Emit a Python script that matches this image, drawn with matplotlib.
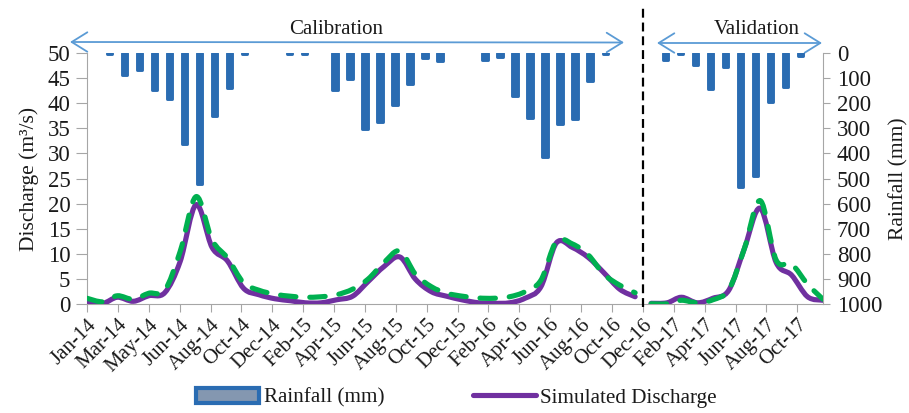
import numpy as np
import matplotlib
matplotlib.use("Agg")
import matplotlib.pyplot as plt
import matplotlib.dates as mdates
import matplotlib.transforms as mtransforms
from matplotlib.path import Path
from matplotlib.patches import PathPatch, Patch, FancyArrowPatch
from matplotlib.lines import Line2D

plt.rcParams['font.family'] = ['Liberation Serif', 'DejaVu Serif']

# ---------------- data ----------------
months = np.arange('2014-01', '2018-01', dtype='datetime64[M]').astype('datetime64[D]')

rainfall_mm = [5, 90, 67, 150, 185, 362, 520, 252, 140, 5, 0, 0,
               5, 5, 0, 148, 104, 302, 276, 207, 126, 22, 34, 0,
               0, 28, 18, 172, 260, 415, 283, 262, 113, 5, 0, 0,
               0, 30, 5, 48, 144, 57, 535, 490, 194, 137, 14, 0]

simulated = [0.6, 0.2, 1.4, 0.6, 1.7, 2.3, 8.5, 19.8, 11.3, 8.6, 3.2, 1.9,
             1.1, 0.7, 0.3, 0.3, 0.9, 1.6, 4.5, 7.5, 9.4, 5.0, 2.5, 1.6,
             0.85, 0.3, 0.2, 0.3, 1.2, 3.5, 12.2, 11.3, 9.3, 6.3, 3.0, 1.5,
             0.2, 0.3, 1.4, 0.3, 1.2, 2.8, 11.0, 19.1, 8.3, 5.8, 1.5, 0.8]

observed = [1.2, 0.5, 1.7, 1.0, 2.2, 2.8, 10.5, 21.4, 12.8, 9.2, 4.3, 2.8,
            2.0, 1.6, 1.4, 1.5, 1.9, 3.0, 5.0, 8.3, 10.6, 6.0, 3.5, 2.2,
            1.6, 1.25, 1.2, 1.5, 2.5, 4.8, 12.5, 12.0, 9.8, 6.0, 3.8, 2.3,
            0.1, 0.1, 0.8, 0.3, 0.9, 2.9, 11.0, 20.6, 8.8, 8.0, 4.0, 1.0]

n_calibration = 36  # Jan-14 .. Dec-16

tick_labels = ['Jan-14', 'Mar-14', 'May-14', 'Jun-14', 'Aug-14', 'Oct-14', 'Dec-14',
               'Feb-15', 'Apr-15', 'Jun-15', 'Aug-15', 'Oct-15', 'Dec-15', 'Feb-16',
               'Apr-16', 'Jun-16', 'Aug-16', 'Oct-16', 'Dec-16', 'Feb-17', 'Apr-17',
               'Jun-17', 'Aug-17', 'Oct-17']

# ---------------- style ----------------
BLUE = '#2A6CB2'
PURPLE = '#7030A0'
GREEN = '#00B050'
ARROW = '#5B9BD5'
GRAY = '#A6A6A6'
TXT = '#1a1a1a'

W, H = 909, 413
fig = plt.figure(figsize=(W / 100, H / 100), dpi=100)
pos = [87 / W, 1 - 304.3 / H, 736 / W, 251.6 / H]

axr = fig.add_axes(pos, label='rain')
ax = fig.add_axes(pos, label='discharge')
axr.set_zorder(1)
ax.set_zorder(2)
ax.patch.set_visible(False)
axr.patch.set_visible(False)

# ---------- rainfall bars (right axis, inverted) ----------
rain = np.asarray(rainfall_mm, float)
idx = np.arange(len(rain))
mask = rain > 0
bars = axr.bar(idx[mask], rain[mask], width=0.36, color=BLUE, edgecolor=BLUE,
               linewidth=2.1, align='center')
for b in bars:
    b.set_joinstyle('round')
axr.set_xlim(-1.5, 47.5)
axr.set_ylim(1000, 0)
axr.set_yticks(np.arange(0, 1001, 100))
axr.yaxis.tick_right()
axr.yaxis.set_label_position('right')
axr.set_xticks([])
for s in ['left', 'top', 'bottom']:
    axr.spines[s].set_visible(False)
axr.spines['right'].set_color(GRAY)
axr.tick_params(axis='y', direction='out', length=5, color=GRAY, labelsize=16.5,
                labelcolor=TXT, pad=5)
axr.set_ylabel('Rainfall (mm)', fontsize=15.5, color=TXT, labelpad=5)

# ---------- discharge lines ----------
x = mdates.date2num(months)


def smooth_path(xs, ys):
    xs = np.asarray(xs, float)
    ys = np.asarray(ys, float)
    n = len(xs)
    verts = [(xs[0], ys[0])]
    codes = [Path.MOVETO]
    for i in range(n - 1):
        xa, ya = (xs[i - 1], ys[i - 1]) if i > 0 else (xs[i], ys[i])
        xb, yb = (xs[i + 2], ys[i + 2]) if i + 2 < n else (xs[i + 1], ys[i + 1])
        c1 = (xs[i] + (xs[i + 1] - xa) / 6, ys[i] + (ys[i + 1] - ya) / 6)
        c2 = (xs[i + 1] - (xb - xs[i]) / 6, ys[i + 1] - (yb - ys[i]) / 6)
        verts += [c1, c2, (xs[i + 1], ys[i + 1])]
        codes += [Path.CURVE4] * 3
    return Path(verts, codes)


sim = np.asarray(simulated, float)
obs = np.asarray(observed, float)
segments = [slice(0, n_calibration), slice(n_calibration, len(x))]
for sl in segments:
    ax.add_patch(PathPatch(smooth_path(x[sl], sim[sl]), fill=False, edgecolor=PURPLE,
                           linewidth=3.7, capstyle='round', joinstyle='round', zorder=3))
for sl in segments:
    ax.add_patch(PathPatch(smooth_path(x[sl], obs[sl]), fill=False, edgecolor=GREEN,
                           linewidth=3.7, linestyle=(0, (3.0, 2.7)), capstyle='round',
                           joinstyle='round', zorder=4))

ax.set_xlim(x[0], x[-1])
ax.set_ylim(0, 50)
ax.set_yticks(np.arange(0, 51, 5))
ticks = x[0] + 60 * np.arange(len(tick_labels))
ax.set_xticks(ticks)
ax.set_xticklabels(tick_labels, rotation=45, ha='right', va='top',
                   rotation_mode='anchor', fontsize=15, color=TXT)
ax.tick_params(axis='x', direction='out', length=6, color=GRAY, pad=2)
ax.tick_params(axis='y', direction='out', length=8, color=GRAY, labelsize=16.5,
               labelcolor=TXT, pad=4)
for s in ['top', 'right']:
    ax.spines[s].set_visible(False)
for s in ['left', 'bottom']:
    ax.spines[s].set_color(GRAY)
ax.set_ylabel('Discharge (m³/s)', fontsize=15.5, color=TXT, labelpad=6)

# ---------- calibration / validation divider ----------
xdiv = (x[n_calibration - 1] + x[n_calibration]) / 2
trans = mtransforms.blended_transform_factory(ax.transData, ax.transAxes)
ax.add_line(Line2D([xdiv, xdiv], [-0.01, 1.19], transform=trans, clip_on=False,
                   color='black', linewidth=1.6, linestyle=(0, (4, 2.2)), zorder=5))


# ---------- period arrows ----------
def fx(px):
    return px / W


def fy(py):
    return 1 - py / H


arrow_kw = dict(arrowstyle='<->,head_length=0.45,head_width=0.28', color=ARROW,
                lw=1.3, mutation_scale=25, shrinkA=0, shrinkB=0)
fig.add_artist(FancyArrowPatch((fx(70), fy(42)), (fx(624), fy(42.5)),
                               transform=fig.transFigure, **arrow_kw))
fig.add_artist(FancyArrowPatch((fx(657), fy(43)), (fx(822), fy(43)),
                               transform=fig.transFigure, **arrow_kw))
fig.text(fx(336), fy(30), 'Calibration', ha='center', va='center', fontsize=15, color=TXT)
fig.text(fx(757), fy(30), 'Validation', ha='center', va='center', fontsize=15, color=TXT)

# ---------- legend ----------
handles = [Patch(facecolor='#8497B0', edgecolor=BLUE, linewidth=3, joinstyle='round'),
           Line2D([], [], color=PURPLE, linewidth=3.7, solid_capstyle='round')]
fig.legend(handles, ['Rainfall (mm)', 'Simulated Discharge'], ncol=2, frameon=False,
           loc='center left', bbox_to_anchor=(fx(177), fy(398)), fontsize=15.2,
           handlelength=3.0, handletextpad=0.2, columnspacing=4.2, labelcolor=TXT)

fig.savefig('out.png', dpi=100)
